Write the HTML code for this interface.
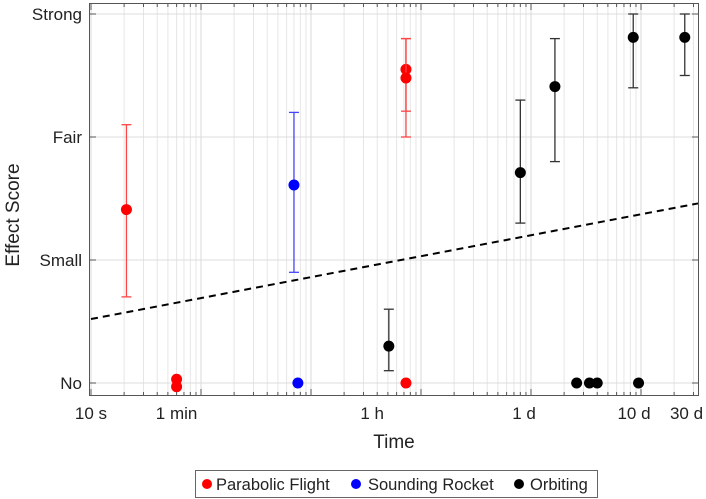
<!DOCTYPE html>
<html><head><meta charset="utf-8"><style>
body{margin:0;background:#fff}
svg{display:block;font-family:"Liberation Sans",Arial,sans-serif}
</style></head><body>
<svg id="chart" width="706" height="499">
<g id="grid"></g>
<g id="marks"></g>
<rect x="89.5" y="3.5" width="609" height="392" fill="none" stroke="#555" stroke-width="1"/>
<g id="axes"></g>
<text x="394" y="448" font-size="19" text-anchor="middle" fill="#222">Time</text>
<text transform="translate(19,215) rotate(-90)" font-size="19" text-anchor="middle" fill="#222">Effect Score</text>
<g>
<rect x="195.5" y="470.5" width="402" height="27" fill="#fff" stroke="#666"/>
<g><circle cx="207" cy="484" r="5" fill="#f00"/><text x="216" y="490" font-size="16.5" fill="#222">Parabolic Flight</text></g>
<g><circle cx="356" cy="484" r="5" fill="#00f"/><text x="368" y="490" font-size="16.5" fill="#222">Sounding Rocket</text></g>
<g><circle cx="519" cy="484" r="5" fill="#000"/><text x="530" y="490" font-size="16.5" fill="#222">Orbiting</text></g>
</g>
</svg>
<script>
const yLabels=["No","Small","Fair","Strong"];
const xTickSeconds=[10,60,3600,86400,864000,2592000];
const xTickLabels=["10 s","1 min","1 h","1 d","10 d","30 d"];
// points: time (s), score, err low, err high (null = none)
const redT=[21,60,60,7300,7300,7300];
const redY=[1.41,0.03,-0.03,2.55,2.48,0];
const redLo=[0.7,null,null,2.0,2.21,null];
const redHi=[2.1,null,null,2.8,2.8,null];
const blueT=[700,760];
const blueY=[1.61,0];
const blueLo=[0.9,null];
const blueHi=[2.2,null];
const blackT=[5100,80000,165000,850000,2500000,260000,340000,400000,950000];
const blackY=[0.3,1.71,2.41,2.81,2.81,0,0,0,0];
const blackLo=[0.1,1.3,1.8,2.4,2.5,null,null,null,null];
const blackHi=[0.6,2.3,2.8,3.0,3.0,null,null,null,null];
const trendT=[10,3300000];
const trendY=[0.52,1.46];

const NS="http://www.w3.org/2000/svg";
const X=t=>91+110*(Math.log10(t)-1);
const Y=v=>383-123*v;
function mk(tag,attrs,parent){const e=document.createElementNS(NS,tag);for(const k in attrs)e.setAttribute(k,attrs[k]);parent.appendChild(e);return e;}
const grid=document.getElementById('grid'),axes=document.getElementById('axes'),marks=document.getElementById('marks');
for(let d=1;d<=6;d++){for(let m=1;m<10;m++){const t=m*Math.pow(10,d);const x=X(t);if(x<89||x>699)continue;
 const l=mk('line',{x1:x,x2:x,y1:4,y2:395,stroke:m===1?'#d8d8d8':'#e6e6e6','stroke-width':1},grid);
 
 
 const h=m===1?6:3;
 mk('line',{x1:x,x2:x,y1:395,y2:395-h,stroke:'#555'},axes);
 mk('line',{x1:x,x2:x,y1:4,y2:4+h,stroke:'#555'},axes);}}
yLabels.forEach((lab,i)=>{const y=Y(i);
 const l=mk('line',{x1:90,x2:698,y1:y,y2:y,stroke:'#dcdcdc'},grid);
 
 
 mk('line',{x1:90,x2:96,y1:y,y2:y,stroke:'#555'},axes);
 mk('line',{x1:692,x2:698,y1:y,y2:y,stroke:'#555'},axes);
 const tx=mk('text',{x:82,y:y+6,'font-size':17,'text-anchor':'end',fill:'#222'},axes);tx.textContent=lab;
 
 });
xTickSeconds.forEach((t,i)=>{const tx=mk('text',{x:X(t),y:419,'font-size':17,'text-anchor':'middle',fill:'#222'},axes);tx.textContent=xTickLabels[i];
 
 });
const tr=mk('line',{x1:X(trendT[0]),y1:Y(trendY[0]),x2:X(trendT[1]),y2:Y(trendY[1]),stroke:'#000','stroke-width':2,'stroke-dasharray':'7,5'},marks);


function series(T,V,Lo,Hi,col,ecol,name){
 T.forEach((t,i)=>{const x=X(t);
  if(Lo[i]!==null){const g=mk('g',{stroke:ecol,'stroke-width':1.3},marks);
   
   
   mk('line',{x1:x,x2:x,y1:Y(Lo[i]),y2:Y(Hi[i])},g);
   mk('line',{x1:x-5,x2:x+5,y1:Y(Lo[i]),y2:Y(Lo[i])},g);
   mk('line',{x1:x-5,x2:x+5,y1:Y(Hi[i]),y2:Y(Hi[i])},g);}
  const c=mk('circle',{cx:x,cy:Y(V[i]),r:5.5,fill:col},marks);
  
  });}
series(redT,redY,redLo,redHi,'#f00','#f44','parabolic-flight');
series(blueT,blueY,blueLo,blueHi,'#00f','#44f','sounding-rocket');
series(blackT,blackY,blackLo,blackHi,'#000','#333','orbiting');
</script>
</body></html>
